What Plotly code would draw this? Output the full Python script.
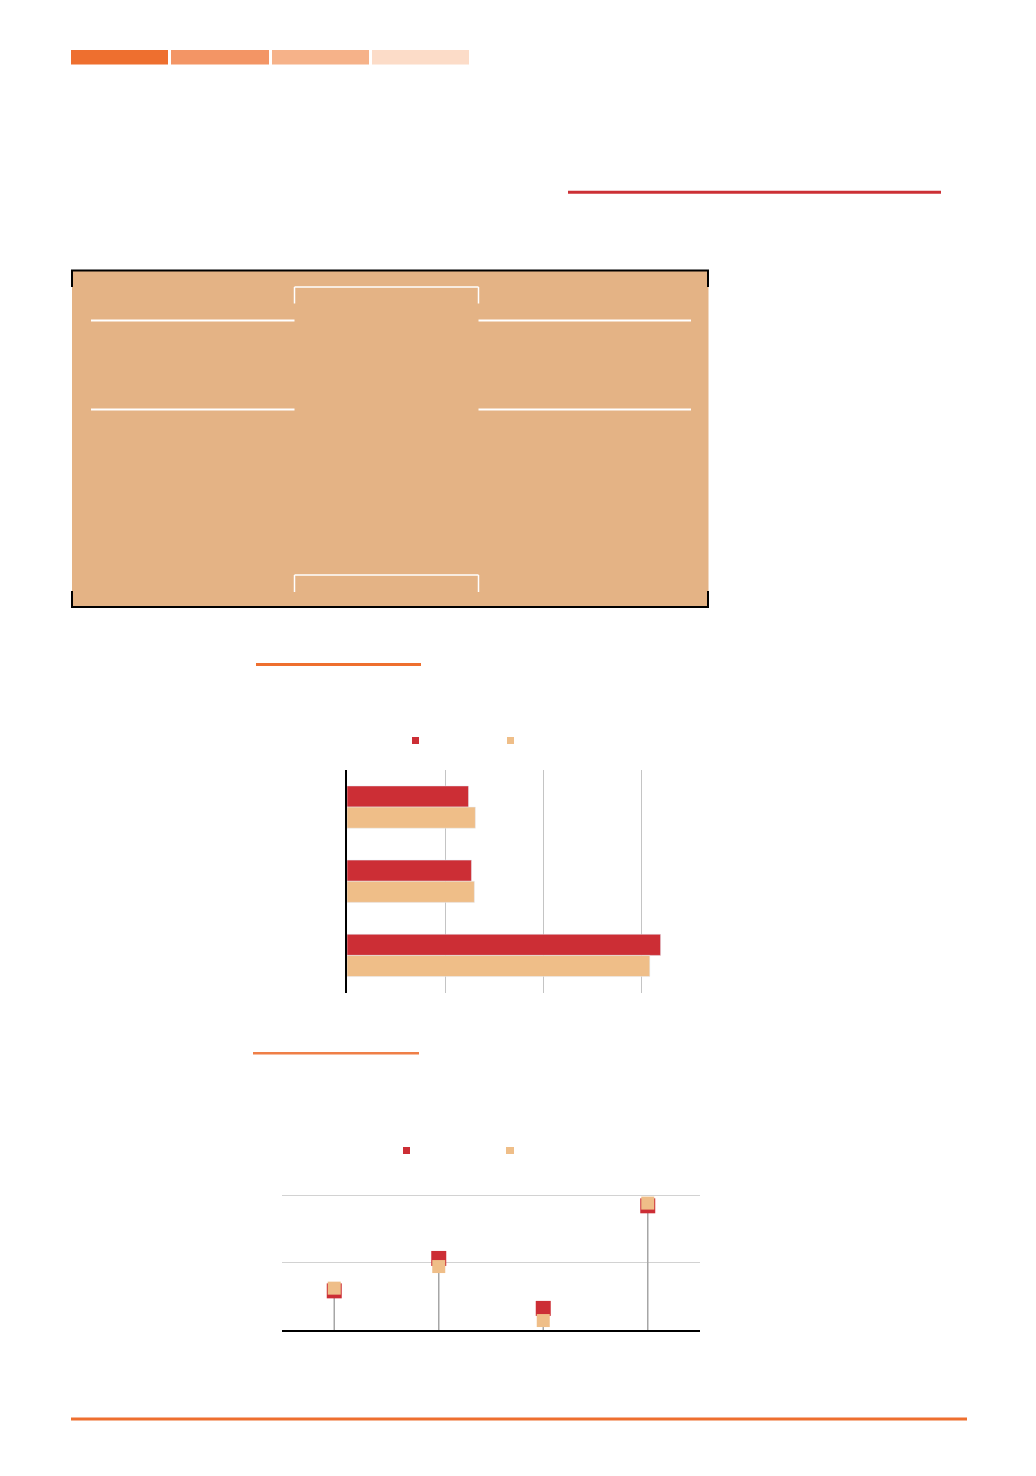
import plotly.graph_objects as go

W = 1036
H = 1476

# datos - barras horizontales
bar_categories = ["Grupo 1", "Grupo 2", "Grupo 3"]
bar_red = [12.4, 12.7, 32.0]
bar_tan = [13.1, 13.0, 30.9]
bar_ticks = [10, 20, 30]

# datos - piruletas
lolli_categories = ["C1", "C2", "C3", "C4"]
lolli_red = [2.9, 5.3, 1.6, 9.2]
lolli_tan = [3.1, 4.7, 0.7, 9.4]
lolli_ticks = [5, 10]

RED = "#CC2E35"
TAN = "#EFBE88"
ORANGE = "#EE6F2F"


def px(x):
    return x / W


def py(y):
    return 1 - y / H


def hline(x0, x1, y, color, width):
    return dict(type="line", xref="paper", yref="paper",
                x0=px(x0), x1=px(x1), y0=py(y), y1=py(y),
                line=dict(color=color, width=width))


def vline(x, y0, y1, color, width):
    return dict(type="line", xref="paper", yref="paper",
                x0=px(x), x1=px(x), y0=py(y0), y1=py(y1),
                line=dict(color=color, width=width))


def rect(x0, y0, x1, y1, color):
    return dict(type="rect", xref="paper", yref="paper",
                x0=px(x0), x1=px(x1), y0=py(y0), y1=py(y1),
                fillcolor=color, line=dict(width=0), layer="below")


fig = go.Figure()

# barras
fig.add_trace(go.Bar(y=bar_categories, x=bar_red, orientation="h",
                     marker=dict(color=RED), xaxis="x", yaxis="y", showlegend=False))
fig.add_trace(go.Bar(y=bar_categories, x=bar_tan, orientation="h",
                     marker=dict(color=TAN), xaxis="x", yaxis="y", showlegend=False))

# tallos de las piruletas (hasta el valor menor)
stem_x = []
stem_y = []
for c, r, t in zip(lolli_categories, lolli_red, lolli_tan):
    stem_x += [c, c, None]
    stem_y += [0, min(r, t), None]
fig.add_trace(go.Scatter(x=stem_x, y=stem_y, mode="lines",
                         line=dict(color="#A6A6A6", width=1.5),
                         xaxis="x2", yaxis="y2", showlegend=False))
fig.add_trace(go.Scatter(x=lolli_categories, y=lolli_red, mode="markers",
                         marker=dict(symbol="square", size=15, color=RED),
                         cliponaxis=False, xaxis="x2", yaxis="y2", showlegend=False))
fig.add_trace(go.Scatter(x=lolli_categories, y=lolli_tan, mode="markers",
                         marker=dict(symbol="square", size=13, color=TAN),
                         cliponaxis=False, xaxis="x2", yaxis="y2", showlegend=False))

shapes = []
# franjas de color arriba
shapes.append(rect(71, 50, 168, 64.5, "#EE6F2F"))
shapes.append(rect(171, 50, 269, 64.5, "#F39565"))
shapes.append(rect(272, 50, 369, 64.5, "#F6B289"))
shapes.append(rect(372, 50, 469, 64.5, "#FCDCC8"))

# linea roja
shapes.append(hline(568, 941, 192.3, "#CC3035", 3))

# recuadro
shapes.append(rect(72, 270, 708.5, 607.5, "#E4B385"))
shapes.append(hline(71, 709, 270.5, "black", 2))
shapes.append(hline(71, 709, 607, "black", 2))
for xx in (72, 708):
    shapes.append(vline(xx, 270, 287, "black", 2))
    shapes.append(vline(xx, 591, 607, "black", 2))
for yy in (320.5, 409.5):
    shapes.append(hline(91, 294.5, yy, "white", 2))
    shapes.append(hline(478.5, 691, yy, "white", 2))
# corchetes
shapes.append(hline(294.5, 478.5, 287, "white", 1.5))
shapes.append(vline(294.5, 287, 303.5, "white", 1.5))
shapes.append(vline(478.5, 287, 303.5, "white", 1.5))
shapes.append(hline(294.5, 478.5, 575, "white", 1.5))
shapes.append(vline(294.5, 575, 592, "white", 1.5))
shapes.append(vline(478.5, 575, 592, "white", 1.5))

# lineas naranjas
shapes.append(hline(256, 421, 664.5, ORANGE, 3))
shapes.append(hline(253, 419, 1053.3, "#EF7F47", 2.5))
shapes.append(hline(71, 967, 1419, ORANGE, 3))

# leyendas
shapes.append(rect(412, 737, 419, 744, RED))
shapes.append(rect(507, 737, 514, 744, TAN))
shapes.append(rect(403, 1147, 410, 1154, RED))
shapes.append(rect(506, 1147, 514, 1154, TAN))

fig.update_layout(
    width=W,
    height=H,
    margin=dict(l=0, r=0, t=0, b=0),
    paper_bgcolor="white",
    plot_bgcolor="white",
    barmode="group",
    bargap=0.43,
    bargroupgap=0,
    shapes=shapes,
    xaxis=dict(domain=[px(347), px(690)], range=[0, 35], tickvals=bar_ticks,
               showticklabels=False, showgrid=True, gridcolor="#C4C4C4", gridwidth=1,
               zeroline=False, showline=False, anchor="y", fixedrange=True),
    yaxis=dict(domain=[py(992.5), py(770)], autorange="reversed",
               showticklabels=False, showgrid=False, zeroline=False,
               showline=True, linecolor="black", linewidth=2, ticks="",
               anchor="x", fixedrange=True),
    xaxis2=dict(domain=[px(282), px(700)], range=[-0.5, 3.5],
                showticklabels=False, showgrid=False, zeroline=False,
                showline=True, linecolor="black", linewidth=2, ticks="",
                anchor="y2", fixedrange=True),
    yaxis2=dict(domain=[py(1330), py(1181.5)], range=[0, 11], tickvals=lolli_ticks,
                showticklabels=False, showgrid=True, gridcolor="#D2D2D2", gridwidth=1,
                zeroline=False, showline=False, anchor="x2", fixedrange=True),
)

# sin margen del body para que la figura quede en (0, 0)
fig.write_html("out.html", config={"displayModeBar": False},
               post_script="document.body.style.margin='0';")
